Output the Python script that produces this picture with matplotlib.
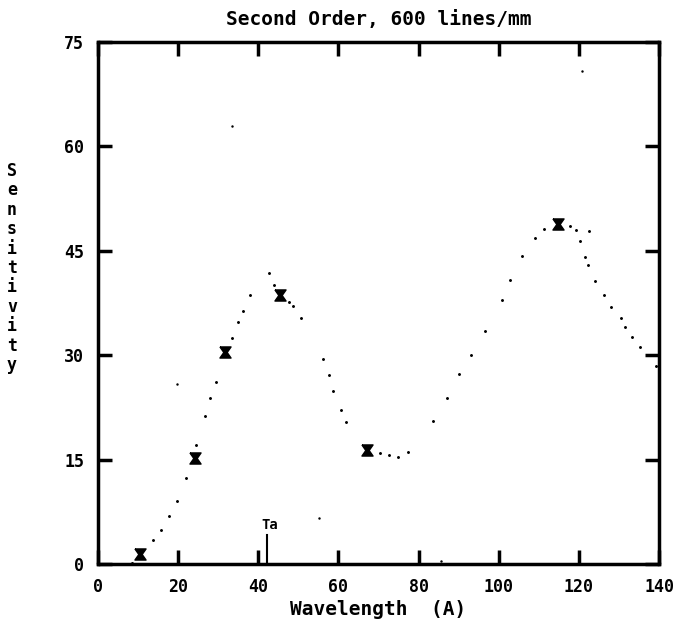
#!/usr/bin/env python3

import matplotlib.pyplot as plt

# Measured sensitivity (hourglass markers)
meas_wl = [10.5, 24.2, 31.7, 45.3, 67.2, 114.7]
meas_sens = [1.4, 15.3, 30.4, 38.7, 16.4, 48.8]

# Dotted model curve
curve_wl = [8.4, 13.8, 15.7, 17.7, 19.7, 21.9, 24.5, 26.8, 27.9, 29.4, 33.4, 34.9,
            36.1, 37.9, 42.7, 43.8, 47.6, 48.6, 50.7, 56.2, 57.6, 58.7, 60.6, 61.8,
            70.4, 72.7, 74.8, 77.4, 83.5, 87.2, 90.2, 93.1, 96.7, 100.7, 102.8,
            105.9, 109.1, 111.4, 117.8, 119.4, 120.3, 121.6, 122.4, 122.6, 124.0,
            126.3, 128.1, 130.4, 131.5, 133.3, 135.3, 139.2]
curve_sens = [0.1, 3.4, 4.9, 6.9, 9.0, 12.3, 17.1, 21.3, 23.8, 26.2, 32.4, 34.7,
              36.4, 38.7, 41.8, 40.1, 37.6, 37.1, 35.4, 29.4, 27.1, 24.9, 22.1, 20.4,
              16.0, 15.7, 15.4, 16.1, 20.5, 23.9, 27.3, 30.0, 33.5, 37.9, 40.8,
              44.3, 46.9, 48.1, 48.6, 48.0, 46.4, 44.1, 43.0, 47.8, 40.7,
              38.6, 36.9, 35.3, 34.1, 32.6, 31.2, 28.5]

# stray specks on the scan
stray_wl = [19.6, 33.4, 55.2, 120.8, 85.6]
stray_sens = [25.8, 62.9, 6.6, 70.8, 0.5]

# Ta edge marker
ta_wl = 42.1
ta_height = 4.2

xticks = [0, 20, 40, 60, 80, 100, 120, 140]
yticks = [0, 15, 30, 45, 60, 75]

hourglass = [(-1, 1), (1, 1), (0.3, 0), (1, -1), (-1, -1), (-0.3, 0), (-1, 1)]

font = {'family': 'DejaVu Sans Mono', 'weight': 'bold'}

if __name__ == '__main__':

    fig = plt.figure(figsize=(6.77, 6.22), dpi=100)
    ax = fig.add_axes([98 / 677, 1 - 564 / 622, 561 / 677, 522 / 622])

    ax.plot(curve_wl, curve_sens, linestyle='none', marker='.', ms=2.2, color='black')
    ax.plot(stray_wl, stray_sens, linestyle='none', marker='.', ms=1.5, color='black')
    ax.plot(meas_wl, meas_sens, linestyle='none', marker=hourglass, ms=8, color='black')

    ax.plot([ta_wl, ta_wl], [0, ta_height], color='black', lw=1.5)
    ax.text(ta_wl - 1.3, 5.0, 'Ta', fontsize=10, **font)

    ax.set_xlim(0, 140)
    ax.set_ylim(0, 75)
    ax.set_xticks(xticks)
    ax.set_yticks(yticks)
    ax.tick_params(direction='in', length=10, width=2.5, top=True, right=True,
                   labelsize=12, pad=10)
    for lab in ax.get_xticklabels() + ax.get_yticklabels():
        lab.set_fontfamily('DejaVu Sans Mono')
        lab.set_fontweight('bold')
    for sp in ax.spines.values():
        sp.set_linewidth(2.5)

    ax.set_title('Second Order, 600 lines/mm', fontsize=14, pad=12, **font)
    ax.set_xlabel('Wavelength  (A)', fontsize=14, labelpad=3, **font)
    fig.text(12 / 677, 1 - 268 / 622, '\n'.join('Sensitivity'), ha='center', va='center',
             fontsize=12, linespacing=1.1, **font)

    plt.savefig('out.png', dpi=100)
